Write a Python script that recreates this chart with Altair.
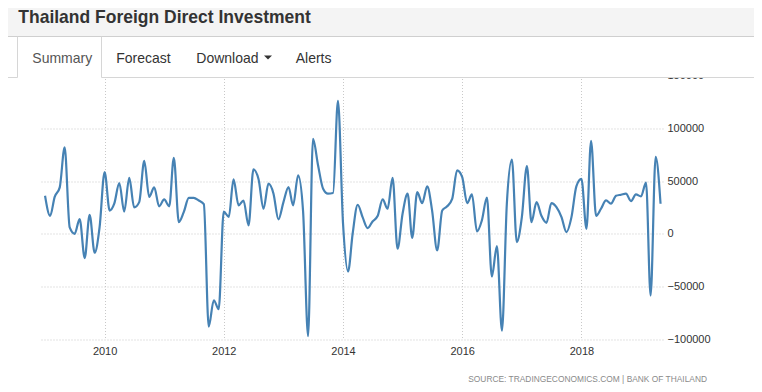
import altair as alt
import pandas as pd

# Monthly FDI values, Jan 2009 .. May 2019
values = [
    36000, 17000, 35000, 44000, 82000, 6000, 0, 14000, -23000, 18000, -18000, 6000,          # 2009
    58500, 22000, 28500, 48000, 21000, 53000, 25000, 30000, 69000, 35000, 44000, 26000,      # 2010
    32600, 26000, 72000, 11000, 20500, 34000, 34000, 31500, 28000, -88000, -63000, -71500,   # 2011
    21000, 16000, 51500, 27000, 31500, 8000, 61000, 52000, 23700, 47500, 38000, 13600,       # 2012
    30000, 44300, 27000, 55400, 22000, -97000, 90000, 65000, 42700, 38000, 38600, 126000,    # 2013
    10000, -35800, 0, 27500, 15800, 5400, 11700, 16800, 32600, 23700, 53000, -14200,         # 2014
    19000, 38000, -3800, 39600, 29000, 45000, 22000, -15800, 22000, 26000, 33000, 60000,     # 2015
    54000, 29000, 37300, 2200, 12700, 34200, -40500, -11700, -91800, 28500, 70300, -7900,    # 2016
    15800, 64200, 11000, 30000, 17000, 10400, 29100, 25300, 15800, 1600, 15800, 45000,       # 2017
    52000, 4700, 88000, 17000, 23700, 31600, 28500, 36000, 37000, 38000, 31000, 37300,       # 2018
    35400, 48400, -58500, 72800, 28500,                                                      # 2019
]
dates = pd.date_range("2009-01-01", periods=len(values), freq="MS").strftime("%Y-%m-%dT00:00:00")
x_tick_years = [2010, 2012, 2014, 2016, 2018]
y_ticks = [-100000, -50000, 0, 50000, 100000, 150000]

title_text = "Thailand Foreign Direct Investment"
tabs = ["Summary", "Forecast", "Download", "Alerts"]
source_text = "SOURCE: TRADINGECONOMICS.COM | BANK OF THAILAND"

df = pd.DataFrame({"date": list(dates), "value": values})
one = pd.DataFrame({"a": [0]})

FONT = "Liberation Sans"

line = alt.Chart(df).mark_line(interpolate="monotone", color="#4682b4", strokeWidth=2.2).encode(
    x=alt.X(
        "date:T",
        scale=alt.Scale(domain=[alt.DateTime(year=2008, month=12, date=1),
                                alt.DateTime(year=2019, month=5, date=16)]),
        axis=alt.Axis(values=[alt.DateTime(year=y, month=1, date=1) for y in x_tick_years],
                      format="%Y", title=None, labelPadding=6, labelBaseline="top"),
    ),
    y=alt.Y(
        "value:Q",
        scale=alt.Scale(domain=[-100000, 150000], nice=False, zero=False),
        axis=alt.Axis(orient="right", values=y_ticks, format="d", title=None,
                      labelAlign="left", labelPadding=4),
    ),
)


def rect(x, x2, y, y2, color):
    return alt.Chart(one).mark_rect(color=color).encode(
        x=alt.value(x), x2=alt.value(x2), y=alt.value(y), y2=alt.value(y2))


def hrule(x, x2, y, color):
    return alt.Chart(one).mark_rule(color=color, strokeWidth=1).encode(
        x=alt.value(x), x2=alt.value(x2), y=alt.value(y))


def vrule(x, y, y2, color):
    return alt.Chart(one).mark_rule(color=color, strokeWidth=1).encode(
        x=alt.value(x), y=alt.value(y), y2=alt.value(y2))


def text(t, x, y, size, color, weight="normal", align="left"):
    return alt.Chart(one).mark_text(align=align, baseline="alphabetic", font=FONT,
                                    fontSize=size, fontWeight=weight, color=color).encode(
        x=alt.value(x), y=alt.value(y), text=alt.value(t))


header_bg = rect(-32, 714, -67.5, -39, "#f4f4f4")
cover = rect(-32, 714, -38.5, 1.5, "#ffffff")
header_line = hrule(-32, 714, -39, "#cfcfcf")
tab_line_l = hrule(-32, -22.5, 2, "#d6d6d6")
tab_line_r = hrule(61.5, 714, 2, "#d6d6d6")
tab_v1 = vrule(-22.5, -39, 2, "#d6d6d6")
tab_v2 = vrule(61.5, -39, 2, "#d6d6d6")

title = text(title_text, -21.7, -52.8, 17.5, "#333333", weight="bold")
tab_x = [-7.7, 76.3, 156.3, 255.7]
tab_colors = ["#555555", "#333333", "#333333", "#333333"]
tab_marks = [text(t, x, -12.8, 14, c) for t, x, c in zip(tabs, tab_x, tab_colors)]
caret = alt.Chart(one).mark_point(shape="M-1,-0.5L1,-0.5L0,0.5Z", filled=True, size=64,
                                  color="#333333", opacity=1).encode(
    x=alt.value(228), y=alt.value(-18))
source = text(source_text, 667, 306.5, 8.4, "#8a8a8a", align="right")

chart = alt.layer(
    line, header_bg, cover, header_line, tab_line_l, tab_line_r, tab_v1, tab_v2,
    title, *tab_marks, caret, source,
).properties(
    width=623,
    height=263.8,
    autosize=alt.AutoSizeParams(type="none"),
    padding={"left": 32, "top": 67.5, "right": 91, "bottom": 44.5},
).configure_view(stroke=None).configure_axis(
    labelFont=FONT, labelFontSize=11, labelColor="#333333",
    gridColor="#c8c8c8", gridDash=[1, 2], gridWidth=1,
    domain=False, ticks=False, tickSize=0,
)

chart.save("out.html", embed_options={"renderer": "svg", "actions": False})
